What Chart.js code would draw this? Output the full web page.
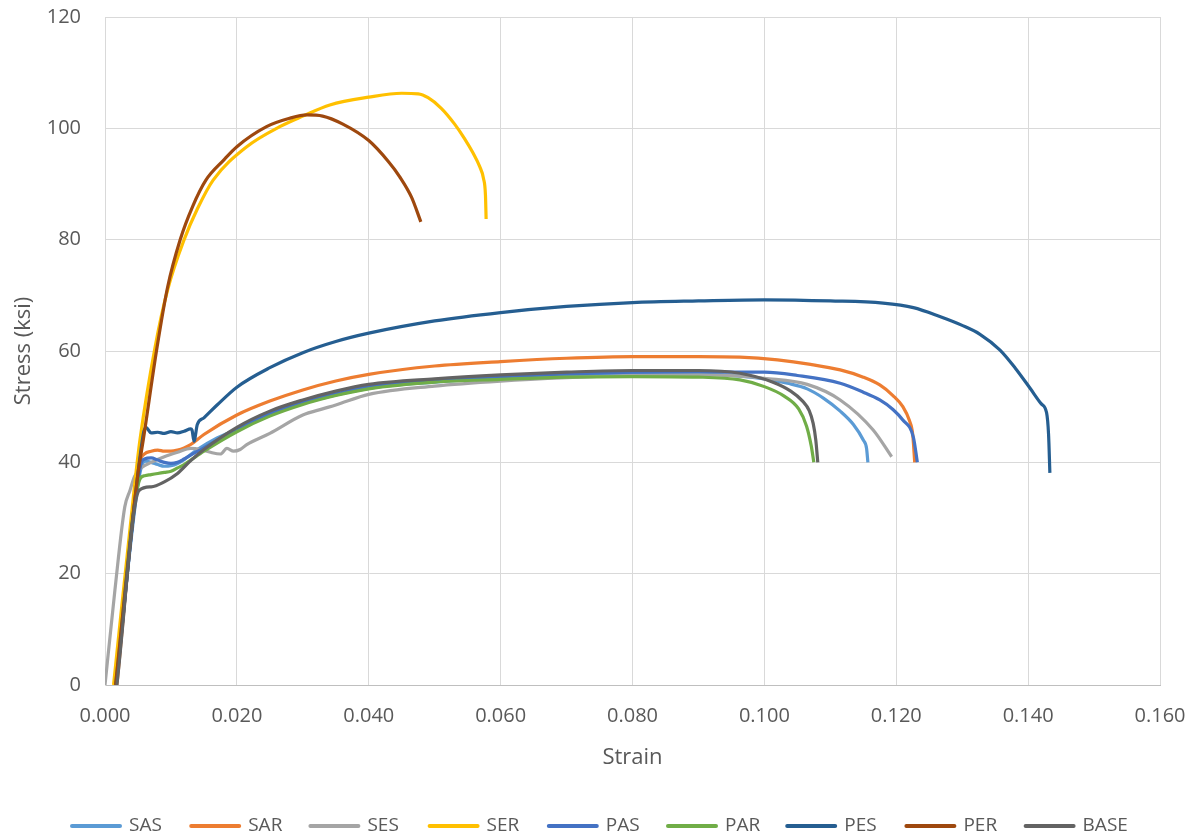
<!DOCTYPE html>
<html><head><meta charset="utf-8">
<script src="https://cdn.jsdelivr.net/npm/chart.js@4.4.1/dist/chart.umd.min.js"></script>
<style>html,body{margin:0;padding:0;background:#fff;}#wrap{width:1197px;height:838px;}</style>
</head><body><div id="wrap"><canvas id="c" width="1197" height="838"></canvas></div>
<script>
const seriesNames = ['SAS','SAR','SES','SER','PAS','PAR','PES','PER','BASE'];
const seriesColors = ['#5B9BD5','#ED7D31','#A5A5A5','#FFC000','#4472C4','#70AD47','#255E91','#9E480E','#636363'];
const xTickValues = [0,0.02,0.04,0.06,0.08,0.10,0.12,0.14,0.16];
const yTickValues = [0,20,40,60,80,100,120];

const sasStrain = [0.0016,0.0050,0.0056,0.0062,0.0070,0.0080,0.0090,0.0100,0.0110,0.0120,0.0140,0.0170,0.0200,0.0250,0.0300,0.0400,0.0500,0.0600,0.0700,0.0800,0.0900,0.0963,0.1000,0.1035,0.1065,0.1090,0.1115,0.1135,0.1150,0.1155,0.1157];
const sasStress = [0,36,39.5,40.2,40.0,39.6,39.3,39.4,39.8,40.5,42.3,44.4,45.9,48.6,50.6,53.3,54.4,55.1,55.6,55.9,55.9,55.5,55.0,54.2,53.2,51.5,49.2,46.8,44.0,42.5,40.0];

const sarStrain = [0.0018,0.0053,0.0060,0.0070,0.0080,0.0090,0.0100,0.0110,0.0120,0.0130,0.0150,0.0200,0.0250,0.0300,0.0350,0.0400,0.0500,0.0600,0.0700,0.0800,0.0900,0.0963,0.1020,0.1070,0.1115,0.1150,0.1175,0.1195,0.1210,0.1220,0.1225,0.1228];
const sarStress = [0,40,41.5,42.0,42.2,42.0,42.0,42.2,42.6,43.2,45.0,48.5,51.0,53.0,54.6,55.8,57.3,58.1,58.7,59.0,59.0,58.9,58.4,57.6,56.6,55.3,53.9,52.0,50.0,47.5,45.0,40.0];

const sesStrain = [0.0000,0.0015,0.0030,0.0038,0.0045,0.0055,0.0070,0.0090,0.0110,0.0130,0.0145,0.0160,0.0175,0.0185,0.0195,0.0205,0.0215,0.0250,0.0300,0.0330,0.0350,0.0400,0.0500,0.0600,0.0700,0.0800,0.0900,0.0963,0.1000,0.1065,0.1115,0.1165,0.1193];
const sesStress = [0,17,32,35,37.5,39.0,40.0,41.0,41.8,42.5,42.3,41.8,41.5,42.5,42.0,42.3,43.2,45.2,48.5,49.6,50.3,52.2,53.7,54.6,55.2,55.6,55.7,55.5,55.1,54.0,51.2,45.8,41.0];

const serStrain = [0.0013,0.0045,0.0053,0.0076,0.0095,0.0120,0.0140,0.0164,0.0215,0.0265,0.0300,0.0341,0.0400,0.0450,0.0475,0.0490,0.0510,0.0530,0.0545,0.0558,0.0568,0.0574,0.0577,0.0578];
const serStress = [0,36,44,60.7,71,80,85.5,90.7,96.7,100.3,102.2,104.2,105.6,106.3,106.2,105.5,103.6,100.8,98.2,95.6,93.2,91.0,88.0,83.7];

const pasStrain = [0.0017,0.0054,0.0060,0.0070,0.0080,0.0090,0.0100,0.0110,0.0120,0.0130,0.0150,0.0200,0.0250,0.0300,0.0350,0.0400,0.0500,0.0600,0.0700,0.0800,0.0900,0.0963,0.1000,0.1050,0.1115,0.1150,0.1175,0.1195,0.1210,0.1226,0.1232];
const pasStress = [0,39.5,40.6,40.8,40.4,40.0,39.8,40.0,40.6,41.3,42.6,46.0,48.8,50.8,52.3,53.6,54.7,55.4,55.9,56.2,56.3,56.2,56.2,55.6,54.2,52.6,51.2,49.5,47.6,44.5,40.0];

const parStrain = [0.0016,0.0053,0.0060,0.0070,0.0080,0.0090,0.0100,0.0110,0.0120,0.0130,0.0150,0.0200,0.0250,0.0300,0.0350,0.0400,0.0500,0.0600,0.0700,0.0800,0.0900,0.0963,0.1000,0.1030,0.1052,0.1064,0.1071,0.1075];
const parStress = [0,37,37.6,37.8,38.0,38.2,38.4,39.0,39.6,40.4,42.0,45.5,48.3,50.4,52.0,53.2,54.4,54.9,55.3,55.4,55.3,54.8,53.6,51.9,49.6,46.5,43.0,40.0];

const pesStrain = [0.0017,0.0058,0.0062,0.0070,0.0080,0.0090,0.0100,0.0110,0.0120,0.0130,0.0132,0.0135,0.0140,0.0150,0.0170,0.0200,0.0250,0.0300,0.0350,0.0400,0.0500,0.0600,0.0700,0.0800,0.0900,0.1000,0.1100,0.1180,0.1226,0.1266,0.1300,0.1327,0.1357,0.1380,0.1403,0.1420,0.1428,0.1431,0.1433];
const pesStress = [0,45,46.3,45.3,45.4,45.2,45.5,45.3,45.6,46.0,45.8,43.8,46.8,48.0,50.3,53.5,57.0,59.7,61.7,63.2,65.4,66.9,68.0,68.7,69.0,69.2,69.0,68.6,67.8,66.2,64.6,63.0,60.2,57.0,53.3,50.5,48.9,45.0,38.1];

const perStrain = [0.0016,0.0050,0.0058,0.0079,0.0095,0.0114,0.0133,0.0153,0.0180,0.0200,0.0245,0.0280,0.0306,0.0330,0.0360,0.0400,0.0430,0.0447,0.0465,0.0479];
const perStress = [0,38,44,60.7,71.5,80,86,90.7,94.3,96.7,100.3,101.8,102.4,102.2,100.8,97.8,94.0,91.3,87.6,83.2];

const baseStrain = [0.0018,0.0052,0.0070,0.0090,0.0110,0.0130,0.0150,0.0200,0.0250,0.0300,0.0350,0.0400,0.0500,0.0600,0.0700,0.0800,0.0900,0.0963,0.1013,0.1040,0.1058,0.1068,0.1074,0.1078,0.1081];
const baseStress = [0,35,35.6,36.5,38.0,40.3,42.3,46.3,49.2,51.2,52.8,54.0,55.0,55.7,56.2,56.5,56.5,56.0,54.4,52.8,51.0,49.3,47.0,44.0,40.0];

const strainSets = [sasStrain,sarStrain,sesStrain,serStrain,pasStrain,parStrain,pesStrain,perStrain,baseStrain];
const stressSets = [sasStress,sarStress,sesStress,serStress,pasStress,parStress,pesStress,perStress,baseStress];

const FONT = "'Open Sans','Liberation Sans',sans-serif";
const TEXT = '#595959';

const datasets = seriesNames.map((name, i) => ({
  label: name,
  data: strainSets[i].map((x, j) => ({x: x, y: stressSets[i][j]})),
  borderColor: seriesColors[i],
  backgroundColor: seriesColors[i],
  borderWidth: 3.2,
  pointRadius: 0,
  showLine: true,
  fill: false,
  cubicInterpolationMode: 'monotone',
  order: seriesNames.length - i
}));

const legendPlugin = {
  id: 'bottomLegend',
  afterDraw(chart) {
    const ctx = chart.ctx;
    ctx.save();
    ctx.font = '19px ' + FONT;
    ctx.textBaseline = 'middle';
    ctx.textAlign = 'left';
    const y = 826;
    chart.data.datasets.forEach((ds, i) => {
      const x0 = 70 + i * 119.2;
      ctx.strokeStyle = ds.borderColor;
      ctx.lineWidth = 4;
      ctx.lineCap = 'round';
      ctx.beginPath();
      ctx.moveTo(x0 + 2, y);
      ctx.lineTo(x0 + 50, y);
      ctx.stroke();
      ctx.fillStyle = TEXT;
      ctx.fillText(ds.label, x0 + 59, y);
    });
    ctx.restore();
  }
};

function noScalePadding(s) {
  s.paddingTop = 0; s.paddingBottom = 0; s.paddingLeft = 0; s.paddingRight = 0;
}

new Chart(document.getElementById('c'), {
  type: 'scatter',
  data: { datasets },
  plugins: [legendPlugin],
  options: {
    responsive: false,
    animation: false,
    devicePixelRatio: 1,
    layout: { padding: { left: 11, right: 37, top: 17, bottom: 67 } },
    plugins: { legend: { display: false }, tooltip: { enabled: false } },
    scales: {
      x: {
        type: 'linear', min: 0, max: 0.16,
        afterBuildTicks(s) { s.ticks = xTickValues.map(v => ({value: v})); },
        afterFit(s) { s.height = 86; noScalePadding(s); },
        ticks: { color: TEXT, font: { family: FONT, size: 20 }, padding: 19, maxRotation: 0, autoSkip: false,
                 callback: v => Number(v).toFixed(3) },
        grid: { color: '#d9d9d9', lineWidth: 1, drawTicks: false },
        border: { color: '#bfbfbf', width: 1 },
        title: { display: true, text: 'Strain', color: TEXT, font: { family: FONT, size: 22 }, padding: 0 }
      },
      y: {
        type: 'linear', min: 0, max: 120,
        afterBuildTicks(s) { s.ticks = yTickValues.map(v => ({value: v})); },
        afterFit(s) { s.width = 94; noScalePadding(s); },
        ticks: { color: TEXT, font: { family: FONT, size: 20 }, padding: 24, callback: v => String(v) },
        grid: { color: '#d9d9d9', lineWidth: 1, drawTicks: false },
        border: { color: '#d9d9d9', width: 1 },
        title: { display: true, text: 'Stress (ksi)', color: TEXT, font: { family: FONT, size: 22 }, padding: 0 }
      }
    }
  }
});
</script>
</body></html>
